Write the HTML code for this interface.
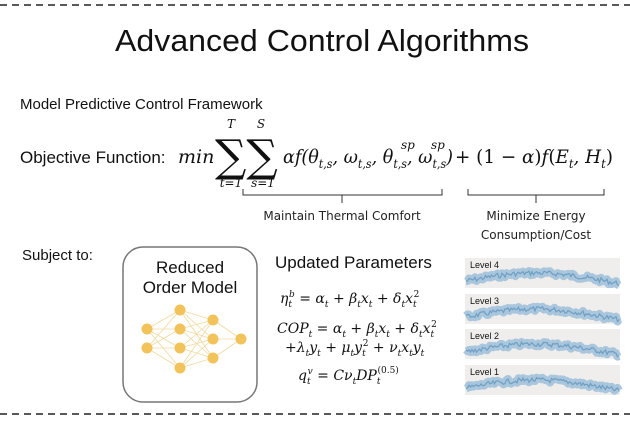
<!DOCTYPE html>
<html><head><meta charset="utf-8"><style>
html,body{margin:0;padding:0;background:#fff;width:630px;height:422px;overflow:hidden}
svg{display:block}
.s{font-family:"Liberation Sans",sans-serif;fill:#111}
.m{font-family:"DejaVu Serif","Liberation Serif",serif;font-style:italic;fill:#111}
.c{font-family:"DejaVu Sans","Liberation Sans",sans-serif;fill:#222}
</style></head><body>
<svg id="g" width="630" height="422" viewBox="0 0 630 422">
<line x1="0" y1="5" x2="630" y2="5" stroke="#222" stroke-width="1.5" stroke-dasharray="7,5"/>
<line x1="0" y1="414" x2="630" y2="414" stroke="#222" stroke-width="1.5" stroke-dasharray="7,5"/>
<text class="s" x="322" y="51" font-size="31" text-anchor="middle" textLength="414" lengthAdjust="spacingAndGlyphs">Advanced Control Algorithms</text>
<text class="s" x="20" y="109" font-size="15">Model Predictive Control Framework</text>
<text class="s" x="20" y="163" font-size="17">Objective Function:</text>
<text class="m" x="178" y="163" font-size="19">min</text>
<text x="215" y="171" font-family="DejaVu Serif,serif" font-size="44" fill="#111">∑∑</text>
<text class="m" x="231" y="128" font-size="12" text-anchor="middle">T</text>
<text class="m" x="261" y="128" font-size="12" text-anchor="middle">S</text>
<text class="m" x="231" y="187" font-size="12" text-anchor="middle" font-style="italic">t=1</text>
<text class="m" x="263" y="187" font-size="12" text-anchor="middle">s=1</text>
<text class="m" x="283" y="163" font-size="19" textLength="170" lengthAdjust="spacingAndGlyphs">αf(θ<tspan font-size="12" dy="5">t,s</tspan><tspan dy="-5">, ω</tspan><tspan font-size="12" dy="5">t,s</tspan><tspan dy="-5">, θ</tspan><tspan font-size="12" dy="5">t,s</tspan><tspan dy="-5">, ω</tspan><tspan font-size="12" dy="5">t,s</tspan><tspan dy="-5">)</tspan></text>
<text class="m" x="401" y="149" font-size="12">sp</text>
<text class="m" x="431" y="149" font-size="12">sp</text>
<text class="m" x="455" y="163" font-size="19" textLength="158" lengthAdjust="spacingAndGlyphs"><tspan font-style="normal">+ (1 − </tspan>α<tspan font-style="normal">)</tspan>f<tspan font-style="normal">(</tspan>E<tspan font-size="12" dy="5">t</tspan><tspan dy="-5">, H</tspan><tspan font-size="12" dy="5">t</tspan><tspan dy="-5" font-style="normal">)</tspan></text>
<path d="M243,189 v6 h199 v-6 M342,195 v8" fill="none" stroke="#333" stroke-width="1"/>
<path d="M468,189 v6 h136 v-6 M536,195 v8" fill="none" stroke="#333" stroke-width="1"/>
<text class="c" x="342" y="220" font-size="12" text-anchor="middle">Maintain Thermal Comfort</text>
<text class="c" x="536" y="220" font-size="12" text-anchor="middle">Minimize Energy</text>
<text class="c" x="536" y="239" font-size="12" text-anchor="middle">Consumption/Cost</text>
<text class="s" x="22" y="260" font-size="15">Subject to:</text>
<rect x="123" y="247" width="134" height="155" rx="20" fill="#fff" stroke="#777" stroke-width="1.5"/>
<text class="s" x="190" y="273" font-size="17" text-anchor="middle">Reduced</text>
<text class="s" x="190" y="293" font-size="17" text-anchor="middle">Order Model</text>
<g id="nn"></g>
<text class="s" x="275" y="268" font-size="17">Updated Parameters</text>
<text class="m" x="280" y="303" font-size="14">η<tspan font-size="9" dy="4">t</tspan><tspan font-size="9" dx="-3" dy="-10">b</tspan><tspan dy="6" font-style="normal"> = </tspan>α<tspan font-size="9" dy="4">t</tspan><tspan dy="-4" font-style="normal"> + </tspan>β<tspan font-size="9" dy="4">t</tspan><tspan dy="-4">x</tspan><tspan font-size="9" dy="4">t</tspan><tspan dy="-4" font-style="normal"> + </tspan>δ<tspan font-size="9" dy="4">t</tspan><tspan dy="-4">x</tspan><tspan font-size="9" dy="4">t</tspan><tspan font-size="9" font-style="normal" dx="-3" dy="-10">2</tspan></text>
<text class="m" x="277" y="333" font-size="14">COP<tspan font-size="9" dy="4">t</tspan><tspan dy="-4" font-style="normal"> = </tspan>α<tspan font-size="9" dy="4">t</tspan><tspan dy="-4" font-style="normal"> + </tspan>β<tspan font-size="9" dy="4">t</tspan><tspan dy="-4">x</tspan><tspan font-size="9" dy="4">t</tspan><tspan dy="-4" font-style="normal"> + </tspan>δ<tspan font-size="9" dy="4">t</tspan><tspan dy="-4">x</tspan><tspan font-size="9" dy="4">t</tspan><tspan font-size="9" font-style="normal" dx="-3" dy="-10">2</tspan></text>
<text class="m" x="285" y="352" font-size="14"><tspan font-style="normal">+</tspan>λ<tspan font-size="9" dy="4">t</tspan><tspan dy="-4">y</tspan><tspan font-size="9" dy="4">t</tspan><tspan dy="-4" font-style="normal"> + </tspan>μ<tspan font-size="9" dy="4">t</tspan><tspan dy="-4">y</tspan><tspan font-size="9" dy="4">t</tspan><tspan font-size="9" font-style="normal" dx="-3" dy="-10">2</tspan><tspan dy="6" font-style="normal"> + </tspan>ν<tspan font-size="9" dy="4">t</tspan><tspan dy="-4">x</tspan><tspan font-size="9" dy="4">t</tspan><tspan dy="-4">y</tspan><tspan font-size="9" dy="4">t</tspan></text>
<text class="m" x="298" y="380" font-size="14">q<tspan font-size="9" dy="4">t</tspan><tspan font-size="9" dx="-3" dy="-10">v</tspan><tspan dy="6" font-style="normal"> = </tspan>Cν<tspan font-size="9" dy="4">t</tspan><tspan dy="-4">DP</tspan><tspan font-size="9" dy="4">t</tspan><tspan font-size="9" font-style="normal" dx="-3" dy="-11">(0.5)</tspan></text>
<g id="pn"></g>
</svg>
<script>
var NS="http://www.w3.org/2000/svg";
function el(p,t,a){var e=document.createElementNS(NS,t);for(var k in a)e.setAttribute(k,a[k]);p.appendChild(e);return e;}
var L=[[[147,329],[147,348]],[[180,310],[180,329],[180,348],[180,368]],[[213,320],[213,339],[213,358]],[[241,339]]];
var nn=document.getElementById("nn");
for(var i=0;i<3;i++)for(var a of L[i])for(var b of L[i+1])el(nn,"line",{x1:a[0],y1:a[1],x2:b[0],y2:b[1],stroke:"#f0d9a0","stroke-width":0.8});
for(var l of L)for(var n of l)el(nn,"circle",{cx:n[0],cy:n[1],r:5.5,fill:"#f2c35a"});
var pn=document.getElementById("pn");
var seed=7;function r(){seed=(seed*9301+49297)%233280;return seed/233280;}
var P=[[258,"Level 4"],[294,"Level 3"],[329,"Level 2"],[365,"Level 1"]];
P.forEach(function(p,k){
 var y0=p[0];el(pn,"rect",{x:465,y:y0,width:155,height:30,fill:"#efeeec"});
 var d="";
 for(var x=466;x<=619;x+=1.5){var t=(x-466)/153;var y=y0+23-8*Math.sin(Math.PI*t*1.1)+(r()-0.5)*5;
  d+=(x==466?"M":"L")+x+","+y.toFixed(1);}
 el(pn,"path",{d:d,fill:"none",stroke:"#a9c6dc","stroke-width":8,"stroke-linejoin":"round"});
 el(pn,"path",{d:d,fill:"none",stroke:"#6e9fc5","stroke-width":1.2});
 var t=el(pn,"text",{x:470,y:y0+10,"font-size":9,"font-family":"Liberation Sans,sans-serif",fill:"#111"});t.textContent=p[1];
});
</script>
</body></html>
